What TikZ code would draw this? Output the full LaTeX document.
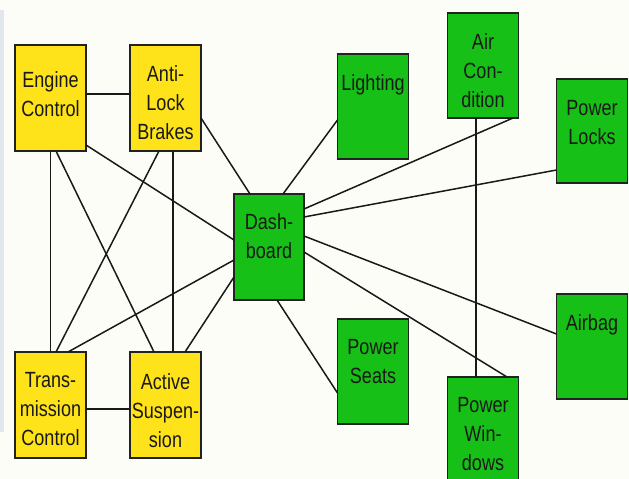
\documentclass[tikz,border=0pt]{standalone}
\usepackage{fontspec}
\setmainfont{Liberation Sans}[FakeStretch=0.82]
\definecolor{bgc}{HTML}{FDFDF8}
\definecolor{boxyellow}{HTML}{FFE31A}
\definecolor{boxgreen}{HTML}{16C016}
\definecolor{edgec}{HTML}{222222}
\definecolor{bandc}{HTML}{E2E7EE}
\begin{document}
\begin{tikzpicture}[x=1pt,y=-1pt,
  box/.style={draw=edgec,line width=1.6pt,minimum width=71pt,minimum height=106pt,inner sep=0pt,outer sep=0pt},
  ybox/.style={box,fill=boxyellow},
  gbox/.style={box,fill=boxgreen},
  lbl/.style={anchor=north,inner sep=0pt,align=center,text=black!90,font=\fontsize{22}{29}\selectfont},
  conn/.style={draw=black!90,line width=1.5pt}]
\useasboundingbox (0,0) rectangle (629,479);
\clip (0,0) rectangle (629,479);
\fill[bgc] (0,0) rectangle (629,479);
\fill[bandc] (0,10) rectangle (3.5,432);

% yellow boxes
\node[ybox] (ec)  at (50.5,98) {};
\node[ybox] (alb) at (165.5,98) {};
\node[ybox] (tc)  at (50.5,405) {};
\node[ybox] (as)  at (165.5,405) {};
% green boxes
\node[gbox,minimum width=70pt] (db) at (269,247) {};
\node[gbox,minimum height=105pt] (li) at (373,106.5) {};
\node[gbox,minimum height=105pt] (ac) at (483,65.5) {};
\node[gbox,minimum height=104pt] (pl) at (592,131) {};
\node[gbox,minimum height=105pt] (ab) at (592,346.5) {};
\node[gbox,minimum height=105pt] (ps) at (373,371.5) {};
\node[gbox,minimum height=105pt] (pw) at (483,429.5) {};

% labels
\node[lbl,yshift=-26pt] (ect) at (ec.north) {Engine\\Control};
\node[lbl,yshift=-20pt] (albt) at (alb.north) {Anti-\\Lock\\Brakes};
\node[lbl,yshift=-20pt] (tct) at (tc.north) {Trans-\\mission\\Control};
\node[lbl,yshift=-21pt] (ast) at (as.north) {Active\\Suspen-\\sion};
\node[lbl,yshift=-19pt] (dbt) at (db.north) {Dash-\\board};
\node[lbl,yshift=-20pt] (lit) at (li.north) {Lighting};
\node[lbl,yshift=-20pt] (act) at (ac.north) {Air\\Con-\\dition};
\node[lbl,yshift=-21pt] (plt) at (pl.north) {Power\\Locks};
\node[lbl,yshift=-20pt] (abt) at (ab.north) {Airbag};
\node[lbl,yshift=-20pt] (pst) at (ps.north) {Power\\Seats};
\node[lbl,yshift=-20pt] (pwt) at (pw.north) {Power\\Win-\\dows};

% connectors
\draw[conn] ([yshift=4pt]ec.east) -- ([yshift=4pt]alb.west);
\draw[conn] (ec.south) -- (tc.north);
\draw[conn] ([xshift=5.5pt]ec.south) -- ([xshift=-11.5pt]as.north);
\draw[conn] ([yshift=-47pt]ec.east) -- ([yshift=7pt]db.west);
\draw[conn] ([xshift=-6.5pt]alb.south) -- ([xshift=5.5pt]tc.north);
\draw[conn] ([xshift=7.5pt]alb.south) -- ([xshift=7.5pt]as.north);
\draw[conn] ([yshift=-20pt]alb.east) -- ([xshift=-19pt]db.north);
\draw[conn] ([xshift=17.5pt]tc.north) -- ([yshift=-13pt]db.west);
\draw[conn] ([xshift=19.5pt]as.north) -- ([yshift=-30pt]db.west);
\draw[conn] ([yshift=-4pt]tc.east) -- ([yshift=-4pt]as.west);
\draw[conn] ([xshift=14pt]db.north) -- ([yshift=-13.5pt]li.west);
\draw[conn] ([yshift=38pt]db.east) -- ([xshift=30pt]ac.south);
\draw[conn] ([yshift=30pt]db.east) -- ([yshift=-39pt]pl.west);
\draw[conn] ([xshift=-7pt]ac.south) -- ([xshift=-7pt]pw.north);
\draw[conn] ([yshift=11pt]db.east) -- ([yshift=12.5pt]ab.west);
\draw[conn] ([yshift=-5pt]db.east) -- ([xshift=24pt]pw.north);
\draw[conn] ([xshift=8pt]db.south) -- ([yshift=-21.5pt]ps.west);
\end{tikzpicture}
\end{document}
